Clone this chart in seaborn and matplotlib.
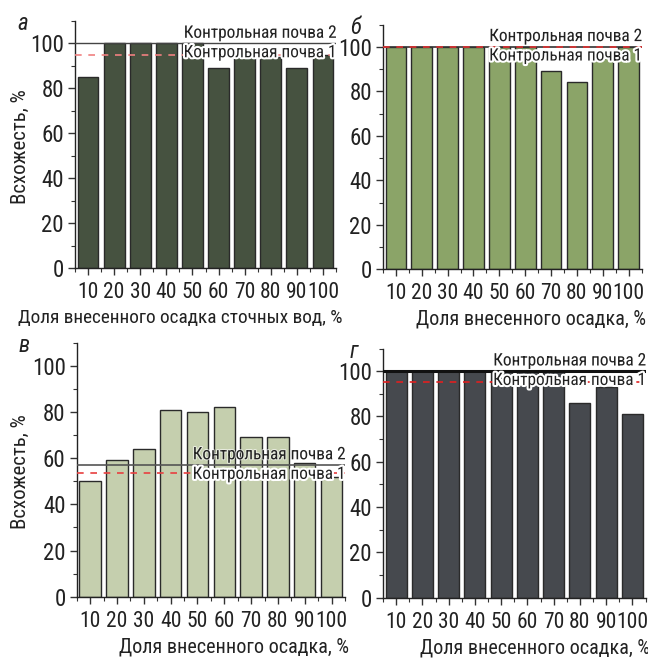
import matplotlib
matplotlib.use("Agg")
import matplotlib.pyplot as plt
import matplotlib.patheffects as pe
from matplotlib import font_manager as fm
from matplotlib.ticker import MultipleLocator, FixedLocator
import seaborn as sns
import pandas as pd

# Share of applied sludge, %
doses = ["10", "20", "30", "40", "50", "60", "70", "80", "90", "100"]

# Germination, % for each panel
germ_a = [85, 100, 100, 100, 100, 89, 94, 94, 89, 95]
germ_b = [100, 100, 100, 100, 100, 100, 89, 84, 95, 100]
germ_c = [50, 59, 64, 81, 80, 82, 69, 69, 58, 52]
germ_d = [100, 100, 100, 100, 100, 100, 100, 86, 93, 81]

# Control soil levels (soil 1, soil 2)
ctrl1 = [95, 100, 53.5, 95]
ctrl2 = [100, 100, 57, 100]

letters = ["а", "б", "в", "г"]
xlabels = ["Доля внесенного осадка сточных вод, %",
           "Доля внесенного осадка, %",
           "Доля внесенного осадка, %",
           "Доля внесенного осадка, %"]
ylabel = "Всхожесть, %"
ctrl1_label = "Контрольная почва 1"
ctrl2_label = "Контрольная почва 2"

colors = ["#465240", "#8ba468", "#c5cfae", "#46494e"]

# narrow sans-serif with Cyrillic, first one available
installed = {f.name for f in fm.fontManager.ttflist}
narrow = next((n for n in ["Roboto Condensed", "PT Sans Narrow", "Fira Sans Condensed",
                           "IBM Plex Sans Condensed", "Open Sans Condensed",
                           "Liberation Sans Narrow"]
               if n in installed), "DejaVu Sans")

sns.set_theme(style="white")
plt.rcParams["font.family"] = [narrow, "DejaVu Sans"]
plt.rcParams["axes.edgecolor"] = "#222222"
plt.rcParams["axes.linewidth"] = 1.0

W, H = 648, 658
fig = plt.figure(figsize=(W / 100, H / 100), dpi=100)

# axes boxes in pixels: left, right, top, bottom
boxes = [(75, 336, 21, 268),
         (383, 641.5, 24.5, 269.3),
         (76.7, 345, 342.6, 596.7),
         (383, 645.5, 348.5, 597.7)]

datasets = [germ_a, germ_b, germ_c, germ_d]
ctrl2_style = [dict(color="#444444", lw=1.0), dict(color="#333333", lw=1.2),
               dict(color="#555555", lw=1.2), dict(color="#111111", lw=2.2)]
ctrl1_color = ["#f08080", "#e03030", "#e84040", "#e02020"]

for i, (box, vals) in enumerate(zip(boxes, datasets)):
    l, r, t, b = box
    ax = fig.add_axes([l / W, 1 - b / H, (r - l) / W, (b - t) / H])
    df = pd.DataFrame({"dose": doses, "germ": vals})
    sns.barplot(data=df, x="dose", y="germ", order=doses, color=colors[i],
                saturation=1, width=0.8, edgecolor="#2a2a2a", linewidth=1.0, ax=ax)
    ax.set_xlim(-0.5, len(doses) - 0.5)
    ax.set_ylim(0, 110)
    ax.set_yticks([0, 20, 40, 60, 80, 100])
    ax.yaxis.set_minor_locator(MultipleLocator(10))
    ax.xaxis.set_minor_locator(FixedLocator([k - 0.5 for k in range(len(doses) + 1)]))
    ax.tick_params(axis="both", which="major", direction="out", length=5, width=1,
                   color="#333333", pad=3, labelcolor="#222222")
    ax.tick_params(axis="y", which="major", labelsize=16.5)
    ax.tick_params(axis="x", which="major", labelsize=15.5, pad=5)
    ax.tick_params(axis="both", which="minor", direction="out", length=3, width=0.8,
                   color="#333333")
    ax.tick_params(axis="x", which="both", bottom=True)
    ax.tick_params(axis="y", which="both", left=True)
    for s in ["top", "right"]:
        ax.spines[s].set_visible(False)
    ax.set_xlabel("")
    ax.set_ylabel("")

    # control soil lines
    ax.axhline(ctrl2[i], zorder=3, **ctrl2_style[i])
    ax.axhline(ctrl1[i], color=ctrl1_color[i], lw=1.2, ls=(0, (4, 4)), zorder=4)

    ax.text(1.0, ctrl2[i] + 1.2, ctrl2_label, transform=ax.get_yaxis_transform(),
            ha="right", va="bottom", fontsize=12.4, color="#222222", zorder=6,
            path_effects=[pe.withStroke(linewidth=1.5, foreground="white", alpha=0.6)])
    ax.text(1.0, ctrl2[i] - 0.8, ctrl1_label, transform=ax.get_yaxis_transform(),
            ha="right", va="top", fontsize=12.4, color="#222222", zorder=6,
            path_effects=[pe.withStroke(linewidth=3, foreground="white")])

    # x-axis title, right aligned to the axis
    off = 7 if i == 0 else 4
    fig.text((r + off) / W, 1 - (b + 50) / H, xlabels[i], ha="right", va="center",
             fontsize=13.9 if i == 0 else 14.5, color="#222222")

    # panel letter
    fig.text((l - 58 if i % 2 == 0 else l - 33) / W, 1 - (t + 3) / H, letters[i],
             ha="left", va="center", fontsize=16.5, style="italic", color="#222222")

    if i % 2 == 0:
        fig.text(20 / W, 1 - ((t + b) / 2 + 2) / H, ylabel, rotation=90, ha="center",
                 va="center", fontsize=15, color="#222222")

fig.savefig("out.png", dpi=100)
